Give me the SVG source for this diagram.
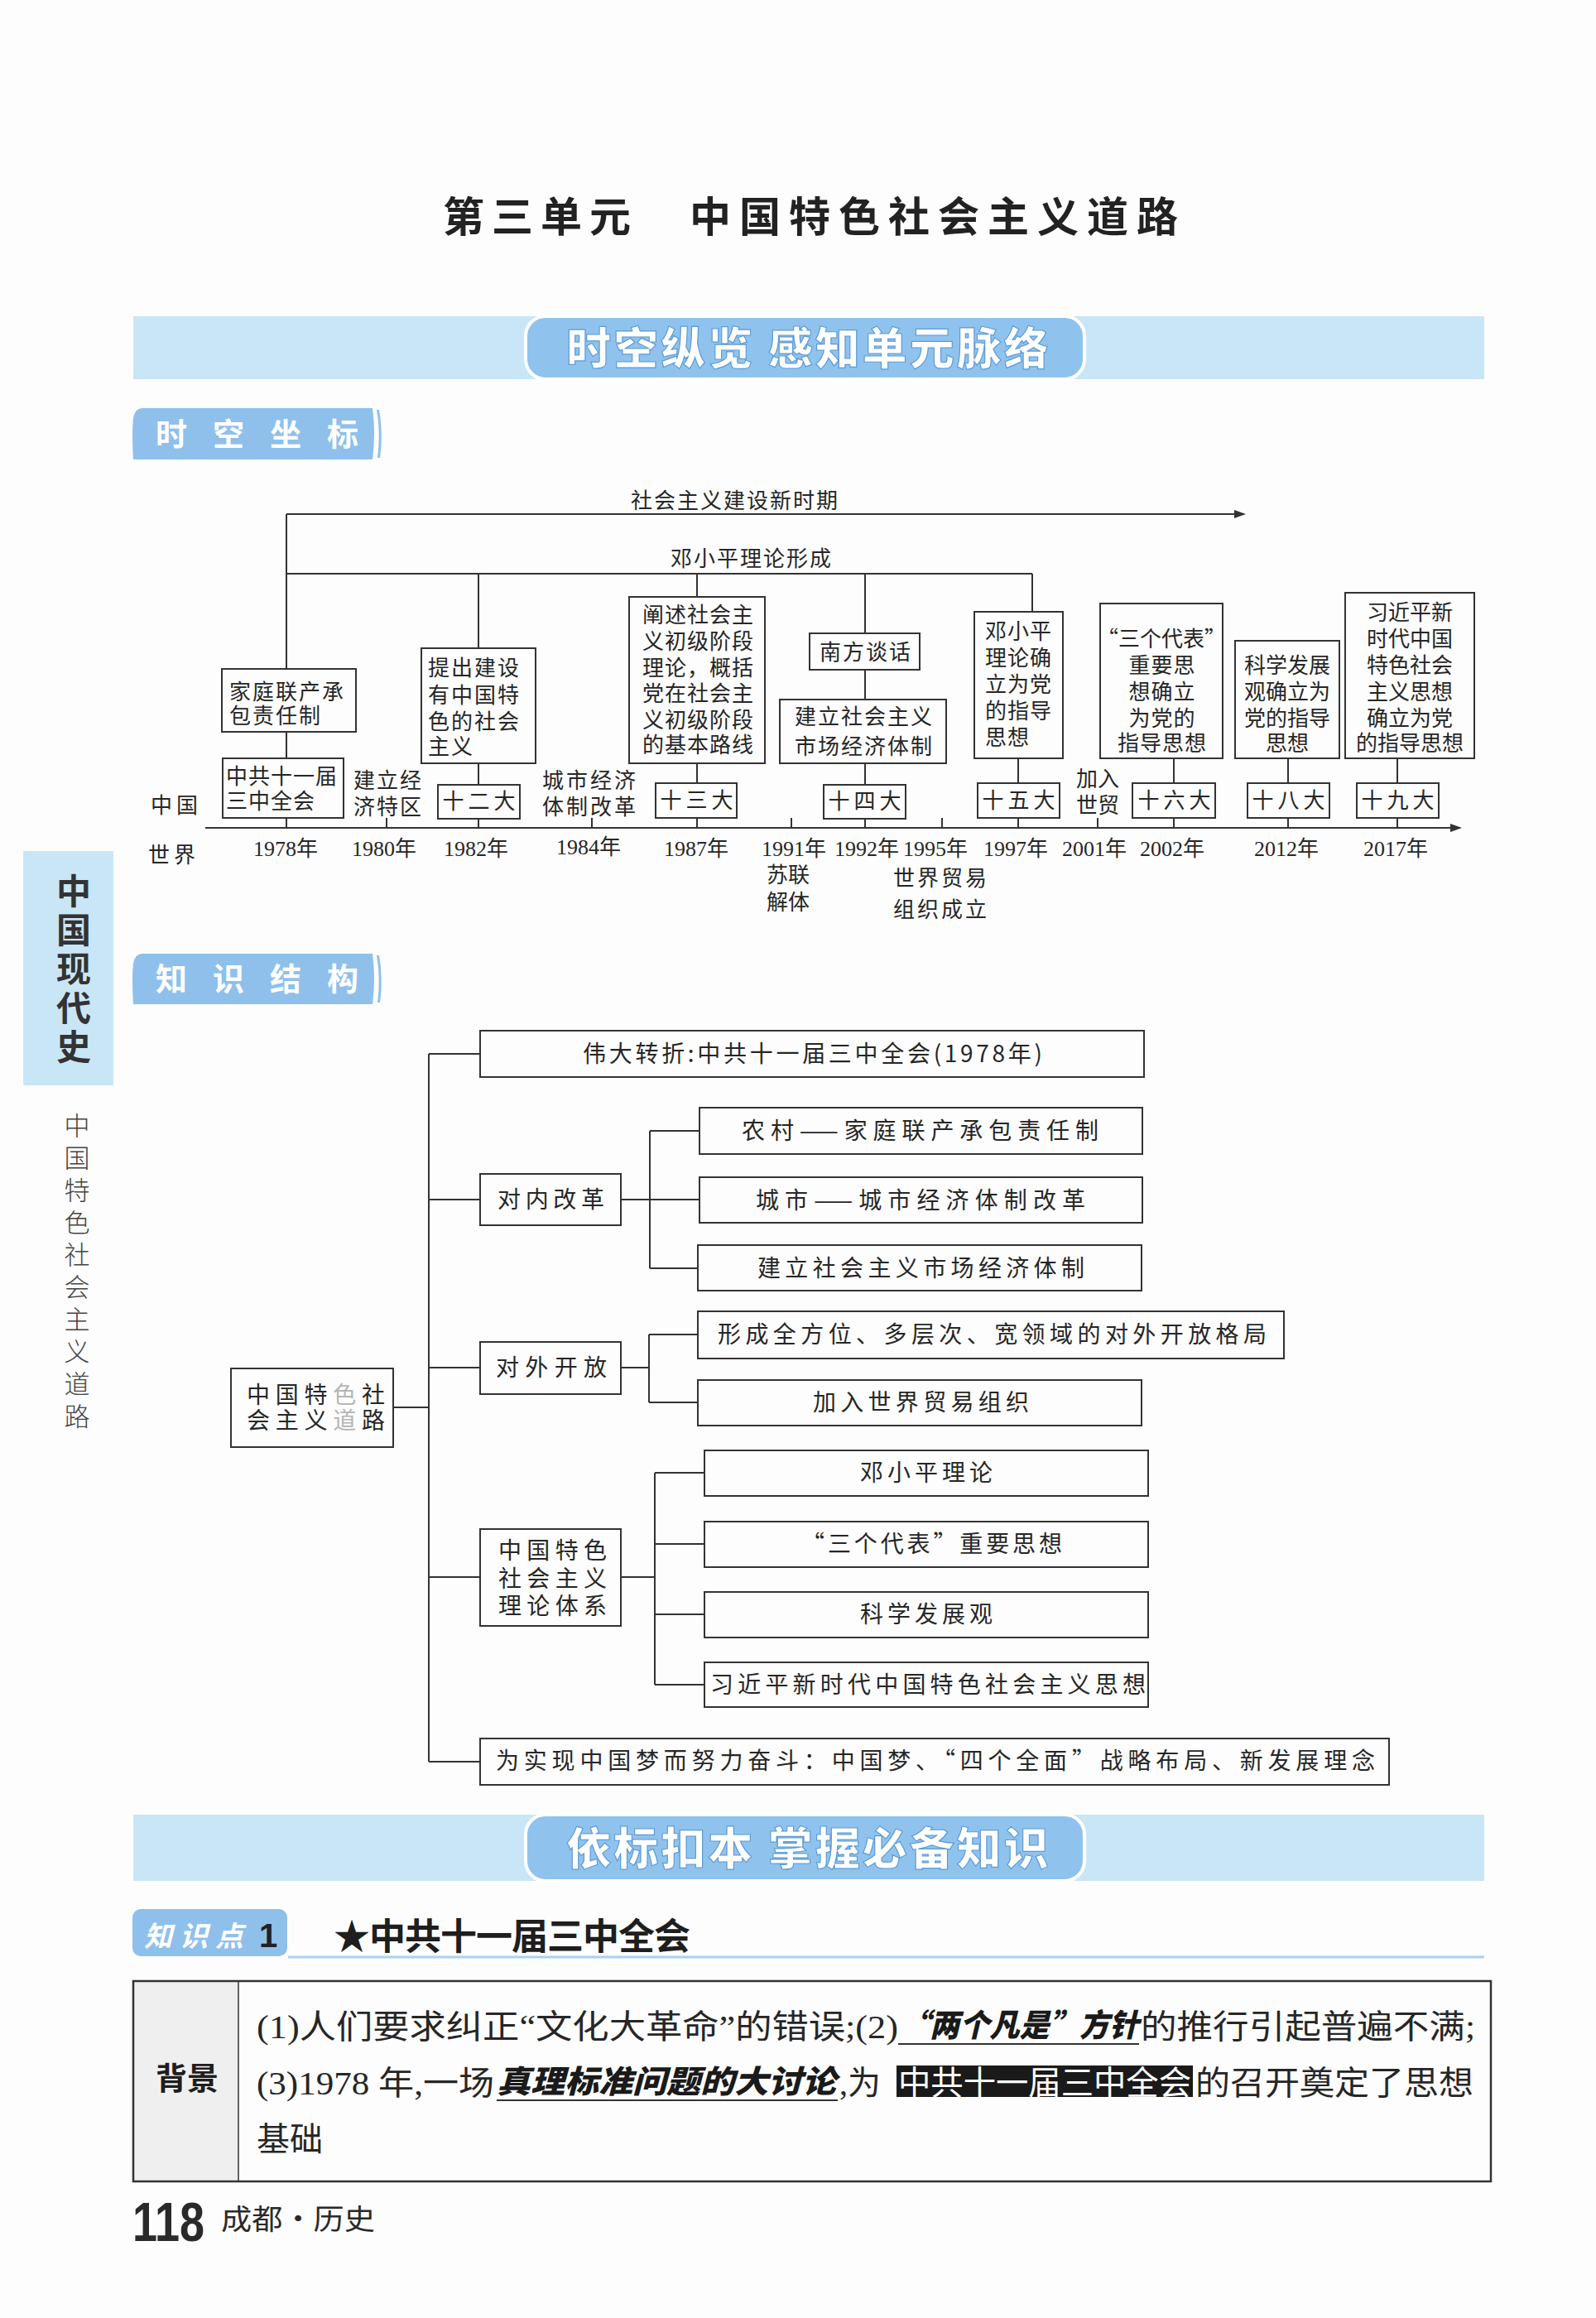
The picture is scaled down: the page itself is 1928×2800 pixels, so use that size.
<svg xmlns="http://www.w3.org/2000/svg" width="1928" height="2800" viewBox="0 0 1928 2800">
<defs>
<style>
.t{font-family:"Noto Sans CJK SC","Noto Sans CJK JP",sans-serif;fill:#262626;font-size:26px}
.y{font-family:"Liberation Serif","Noto Sans CJK SC",serif;fill:#262626;font-size:26px;text-anchor:middle}
.m{text-anchor:middle}
.b{fill:none;stroke:#333;stroke-width:2}
.ln{stroke:#333;stroke-width:2;fill:none}
.tr{font-family:"Noto Sans CJK SC",sans-serif;fill:#262626;font-size:28px}
.p{font-family:"Liberation Serif","Noto Sans CJK SC",serif;fill:#262626;font-size:40px}
.pb{font-family:"Noto Sans CJK SC",sans-serif;fill:#1a1a1a;font-size:38px;font-weight:900;font-style:italic}
.band{fill:#c9e6f7}
.pill{fill:#8fc3ee;stroke:#fff;stroke-width:4}
.bt{font-family:"Noto Sans CJK SC",sans-serif;fill:#fff;font-weight:900;font-size:54px;text-anchor:middle;letter-spacing:3px;stroke:#5d9bd6;stroke-width:1.2}
.tag{fill:#8fc0ec}
.tagt{font-family:"Noto Sans CJK SC",sans-serif;fill:#fff;font-weight:700;font-size:38px;letter-spacing:31px}
.faint{fill:#b5b5b5}
</style>
<marker id="ar" markerWidth="14" markerHeight="12" refX="12" refY="6" orient="auto" markerUnits="userSpaceOnUse"><path d="M0,1 L14,6 L0,11 z" fill="#333"/></marker>
<linearGradient id="ug" x1="0" x2="1"><stop offset="0" stop-color="#6fb0ec" stop-opacity="0.2"/><stop offset="0.5" stop-color="#3f8fe0"/><stop offset="1" stop-color="#6fb0ec" stop-opacity="0.2"/></linearGradient>
</defs>
<rect width="1928" height="2800" fill="#fdfdfd"/>

<g id="title" font-family="Noto Sans CJK SC, sans-serif" font-weight="700" font-size="50" fill="#222">
<text x="535" y="280" letter-spacing="9">第三单元</text>
<text x="833" y="280" letter-spacing="10">中国特色社会主义道路</text>
</g>

<g id="banner1">
<rect class="band" x="161" y="382" width="1632" height="76"/>
<rect class="pill" x="635" y="382" width="675" height="76" rx="24"/>
<text class="bt" x="977" y="441">时空纵览 感知单元脉络</text>
</g>

<g id="tag1">
<path class="tag" d="M172,493 H450 Q454,524 450,555 H161 Q159,524 161,505 Q163,493 172,493 z"/>
<path class="tag" d="M455,495 Q460,524 456,553 L459,553 Q463,524 458,495 z"/>
<text class="tagt" x="188" y="538">时空坐标</text>
</g>

<g id="timeline-connectors">
<line class="ln" x1="346" y1="621" x2="1503" y2="621" marker-end="url(#ar)"/>
<line class="ln" x1="346" y1="621" x2="346" y2="808"/>
<line class="ln" x1="346" y1="693" x2="1247" y2="693"/>
<line class="ln" x1="578" y1="693" x2="578" y2="783"/>
<line class="ln" x1="842" y1="693" x2="842" y2="721"/>
<line class="ln" x1="1045" y1="693" x2="1045" y2="765"/>
<line class="ln" x1="1247" y1="693" x2="1247" y2="739"/>
<line class="ln" x1="346" y1="884" x2="346" y2="916"/>
<line class="ln" x1="578" y1="922" x2="578" y2="948"/>
<line class="ln" x1="842" y1="922" x2="842" y2="946"/>
<line class="ln" x1="1045" y1="809" x2="1045" y2="845"/>
<line class="ln" x1="1045" y1="922" x2="1045" y2="948"/>
<line class="ln" x1="1230" y1="916" x2="1230" y2="946"/>
<line class="ln" x1="1418" y1="916" x2="1418" y2="946"/>
<line class="ln" x1="1556" y1="916" x2="1556" y2="946"/>
<line class="ln" x1="1688" y1="916" x2="1688" y2="946"/>
<line class="ln" x1="346" y1="988" x2="346" y2="1000"/>
<line class="ln" x1="578" y1="989" x2="578" y2="1000"/>
<line class="ln" x1="842" y1="988" x2="842" y2="1000"/>
<line class="ln" x1="1045" y1="989" x2="1045" y2="1000"/>
<line class="ln" x1="1230" y1="988" x2="1230" y2="1000"/>
<line class="ln" x1="1418" y1="988" x2="1418" y2="1000"/>
<line class="ln" x1="1556" y1="988" x2="1556" y2="1000"/>
<line class="ln" x1="1688" y1="988" x2="1688" y2="1000"/>
<line class="ln" x1="467" y1="988" x2="467" y2="1000"/>
<line class="ln" x1="715" y1="988" x2="715" y2="1000"/>
<line class="ln" x1="956" y1="988" x2="956" y2="1000"/>
<line class="ln" x1="1138" y1="988" x2="1138" y2="1000"/>
<line class="ln" x1="1326" y1="988" x2="1326" y2="1000"/>
<line class="ln" x1="248" y1="1000" x2="1764" y2="1000" marker-end="url(#ar)"/>
</g>

<g id="timeline-labels">
<text class="t m" x="888" y="614" letter-spacing="2">社会主义建设新时期</text>
<text class="t m" x="908" y="684" letter-spacing="2">邓小平理论形成</text>
<text class="t" x="182" y="982" letter-spacing="5">中国</text>
<text class="t" x="179" y="1042" letter-spacing="5">世界</text>
<text class="t" x="427" y="952" letter-spacing="2">建立经</text>
<text class="t" x="427" y="984" letter-spacing="2">济特区</text>
<text class="t" x="655" y="952" letter-spacing="3">城市经济</text>
<text class="t" x="655" y="984" letter-spacing="3">体制改革</text>
<text class="t" x="1300" y="950">加入</text>
<text class="t" x="1300" y="982">世贸</text>
<text class="y" x="345" y="1034">1978年</text>
<text class="y" x="464" y="1034">1980年</text>
<text class="y" x="575" y="1034">1982年</text>
<text class="y" x="711" y="1032">1984年</text>
<text class="y" x="841" y="1034">1987年</text>
<text class="y" x="959" y="1034">1991年</text>
<text class="y" x="1047" y="1034">1992年</text>
<text class="y" x="1130" y="1034">1995年</text>
<text class="y" x="1227" y="1034">1997年</text>
<text class="y" x="1322" y="1034">2001年</text>
<text class="y" x="1416" y="1034">2002年</text>
<text class="y" x="1554" y="1034">2012年</text>
<text class="y" x="1686" y="1034">2017年</text>
<text class="t m" x="952" y="1066">苏联</text>
<text class="t m" x="952" y="1099">解体</text>
<text class="t" x="1079" y="1070" letter-spacing="3">世界贸易</text>
<text class="t" x="1079" y="1108" letter-spacing="3">组织成立</text>
</g>

<g id="n-jiating"><rect class="b" x="268" y="808" width="162" height="76"/>
<text class="t" x="277" y="845" letter-spacing="2">家庭联产承</text><text class="t" x="277" y="874" letter-spacing="2">包责任制</text></g>
<g id="n-sanzhong"><rect class="b" x="269" y="916" width="146" height="72"/>
<text class="t" x="273" y="947" letter-spacing="1">中共十一届</text><text class="t" x="273" y="977" letter-spacing="1">三中全会</text></g>
<g id="n-tichu"><rect class="b" x="509" y="783" width="138" height="139"/>
<text class="t" x="517" y="816" letter-spacing="2">提出建设</text><text class="t" x="517" y="849" letter-spacing="2">有中国特</text><text class="t" x="517" y="881" letter-spacing="2">色的社会</text><text class="t" x="517" y="911" letter-spacing="2">主义</text></g>
<g id="n-12"><rect class="b" x="529" y="948" width="99" height="41"/><text class="t m" x="581" y="977" letter-spacing="5">十二大</text></g>
<g id="n-chanshu"><rect class="b" x="760" y="721" width="164" height="201"/>
<text class="t" x="776" y="752" letter-spacing="1">阐述社会主</text><text class="t" x="776" y="784" letter-spacing="1">义初级阶段</text><text class="t" x="776" y="816" letter-spacing="1">理论，概括</text><text class="t" x="776" y="847" letter-spacing="1">党在社会主</text><text class="t" x="776" y="879" letter-spacing="1">义初级阶段</text><text class="t" x="776" y="909" letter-spacing="1">的基本路线</text></g>
<g id="n-13"><rect class="b" x="792" y="946" width="98" height="42"/><text class="t m" x="844" y="976" letter-spacing="5">十三大</text></g>
<g id="n-nanfang"><rect class="b" x="978" y="765" width="133" height="44"/><text class="t m" x="1046" y="797" letter-spacing="2">南方谈话</text></g>
<g id="n-shichang"><rect class="b" x="942" y="845" width="201" height="77"/>
<text class="t m" x="1044" y="875" letter-spacing="2">建立社会主义</text><text class="t m" x="1044" y="911" letter-spacing="2">市场经济体制</text></g>
<g id="n-14"><rect class="b" x="995" y="948" width="99" height="41"/><text class="t m" x="1047" y="977" letter-spacing="5">十四大</text></g>
<g id="n-deng"><rect class="b" x="1177" y="739" width="107" height="177"/>
<text class="t" x="1190" y="772" letter-spacing="1">邓小平</text><text class="t" x="1190" y="804" letter-spacing="1">理论确</text><text class="t" x="1190" y="836" letter-spacing="1">立为党</text><text class="t" x="1190" y="868" letter-spacing="1">的指导</text><text class="t" x="1190" y="900" letter-spacing="1">思想</text></g>
<g id="n-15"><rect class="b" x="1181" y="946" width="99" height="42"/><text class="t m" x="1233" y="976" letter-spacing="5">十五大</text></g>
<g id="n-sange"><rect class="b" x="1329" y="729" width="148" height="187"/>
<text class="t m" x="1403" y="781">“三个代表”</text><text class="t m" x="1404" y="813" letter-spacing="1">重要思</text><text class="t m" x="1404" y="845" letter-spacing="1">想确立</text><text class="t m" x="1404" y="877" letter-spacing="1">为党的</text><text class="t m" x="1404" y="907" letter-spacing="1">指导思想</text></g>
<g id="n-16"><rect class="b" x="1368" y="946" width="100" height="42"/><text class="t m" x="1421" y="976" letter-spacing="5">十六大</text></g>
<g id="n-kexue"><rect class="b" x="1492" y="774" width="126" height="142"/>
<text class="t m" x="1555" y="813">科学发展</text><text class="t m" x="1555" y="845">观确立为</text><text class="t m" x="1555" y="877">党的指导</text><text class="t m" x="1555" y="907">思想</text></g>
<g id="n-18"><rect class="b" x="1507" y="946" width="99" height="42"/><text class="t m" x="1559" y="976" letter-spacing="5">十八大</text></g>
<g id="n-xi"><rect class="b" x="1625" y="716" width="156" height="200"/>
<text class="t m" x="1703" y="749">习近平新</text><text class="t m" x="1703" y="781">时代中国</text><text class="t m" x="1703" y="813">特色社会</text><text class="t m" x="1703" y="845">主义思想</text><text class="t m" x="1703" y="877">确立为党</text><text class="t m" x="1703" y="907">的指导思想</text></g>
<g id="n-19"><rect class="b" x="1639" y="946" width="99" height="42"/><text class="t m" x="1691" y="976" letter-spacing="5">十九大</text></g>

<g id="tag2">
<path class="tag" d="M172,1152 H450 Q454,1182 450,1213 H161 Q159,1182 161,1164 Q163,1152 172,1152 z"/>
<path class="tag" d="M455,1154 Q460,1182 456,1211 L459,1211 Q463,1182 458,1154 z"/>
<text class="tagt" x="188" y="1196">知识结构</text>
</g>

<g id="tree-connectors">
<line class="ln" x1="518" y1="1273" x2="518" y2="2128"/>
<line class="ln" x1="518" y1="1273" x2="580" y2="1273"/>
<line class="ln" x1="518" y1="1449" x2="580" y2="1449"/>
<line class="ln" x1="518" y1="1652" x2="580" y2="1652"/>
<line class="ln" x1="518" y1="1905" x2="580" y2="1905"/>
<line class="ln" x1="518" y1="2128" x2="580" y2="2128"/>
<line class="ln" x1="475" y1="1700" x2="518" y2="1700"/>
<line class="ln" x1="750" y1="1449" x2="785" y2="1449"/>
<line class="ln" x1="785" y1="1366" x2="785" y2="1532"/>
<line class="ln" x1="785" y1="1366" x2="845" y2="1366"/>
<line class="ln" x1="785" y1="1449" x2="845" y2="1449"/>
<line class="ln" x1="785" y1="1532" x2="843" y2="1532"/>
<line class="ln" x1="750" y1="1652" x2="784" y2="1652"/>
<line class="ln" x1="784" y1="1612" x2="784" y2="1694"/>
<line class="ln" x1="784" y1="1612" x2="843" y2="1612"/>
<line class="ln" x1="784" y1="1694" x2="843" y2="1694"/>
<line class="ln" x1="750" y1="1905" x2="791" y2="1905"/>
<line class="ln" x1="791" y1="1779" x2="791" y2="2035"/>
<line class="ln" x1="791" y1="1779" x2="851" y2="1779"/>
<line class="ln" x1="791" y1="1865" x2="851" y2="1865"/>
<line class="ln" x1="791" y1="1950" x2="851" y2="1950"/>
<line class="ln" x1="791" y1="2035" x2="851" y2="2035"/>
</g>

<g id="k-root"><rect class="b" x="279" y="1653" width="196" height="95"/>
<text class="tr" x="298" y="1695" textLength="167" lengthAdjust="spacing">中国特<tspan class="faint">色</tspan>社</text><text class="tr" x="298" y="1726" textLength="167" lengthAdjust="spacing">会主义<tspan class="faint">道</tspan>路</text></g>
<g id="k-zhuanzhe"><rect class="b" x="580" y="1245" width="802" height="56"/><text class="tr" x="704" y="1283" textLength="555" lengthAdjust="spacing">伟大转折:中共十一届三中全会(1978年)</text></g>
<g id="k-duinei"><rect class="b" x="580" y="1418" width="170" height="62"/><text class="tr" x="601" y="1459" textLength="129" lengthAdjust="spacing">对内改革</text></g>
<g id="k-nongcun"><rect class="b" x="845" y="1338" width="535" height="56"/><text class="tr" x="896" y="1376" textLength="431" lengthAdjust="spacing">农村——家庭联产承包责任制</text></g>
<g id="k-chengshi"><rect class="b" x="845" y="1422" width="535" height="55"/><text class="tr" x="913" y="1460" textLength="398" lengthAdjust="spacing">城市——城市经济体制改革</text></g>
<g id="k-shichang"><rect class="b" x="843" y="1504" width="536" height="55"/><text class="tr" x="915" y="1542" textLength="395" lengthAdjust="spacing">建立社会主义市场经济体制</text></g>
<g id="k-duiwai"><rect class="b" x="580" y="1621" width="170" height="63"/><text class="tr" x="599" y="1662" textLength="134" lengthAdjust="spacing">对外开放</text></g>
<g id="k-geju"><rect class="b" x="843" y="1584" width="708" height="57"/><text class="tr" x="867" y="1622" textLength="663" lengthAdjust="spacing">形成全方位、多层次、宽领域的对外开放格局</text></g>
<g id="k-wto"><rect class="b" x="843" y="1667" width="536" height="55"/><text class="tr" x="982" y="1704" textLength="261" lengthAdjust="spacing">加入世界贸易组织</text></g>
<g id="k-tixi"><rect class="b" x="580" y="1847" width="170" height="117"/>
<text class="tr" x="602" y="1883" textLength="131" lengthAdjust="spacing">中国特色</text><text class="tr" x="602" y="1917" textLength="131" lengthAdjust="spacing">社会主义</text><text class="tr" x="602" y="1950" textLength="131" lengthAdjust="spacing">理论体系</text></g>
<g id="k-deng"><rect class="b" x="851" y="1752" width="536" height="55"/><text class="tr" x="1039" y="1789" textLength="160" lengthAdjust="spacing">邓小平理论</text></g>
<g id="k-sange"><rect class="b" x="851" y="1838" width="536" height="55"/><text class="tr" x="968" y="1875" textLength="315" lengthAdjust="spacing">“三个代表”重要思想</text></g>
<g id="k-kexue"><rect class="b" x="851" y="1923" width="536" height="55"/><text class="tr" x="1039" y="1960" textLength="160" lengthAdjust="spacing">科学发展观</text></g>
<g id="k-xi"><rect class="b" x="851" y="2008" width="536" height="54"/><text class="tr" x="858" y="2045" textLength="526" lengthAdjust="spacing">习近平新时代中国特色社会主义思想</text></g>
<g id="k-meng"><rect class="b" x="580" y="2100" width="1098" height="56"/><text class="tr" x="599" y="2137" textLength="1062" lengthAdjust="spacing">为实现中国梦而努力奋斗：中国梦、“四个全面”战略布局、新发展理念</text></g>

<g id="banner2">
<rect class="band" x="161" y="2192" width="1632" height="80"/>
<rect class="pill" x="635" y="2192" width="675" height="80" rx="24"/>
<text class="bt" x="977" y="2253">依标扣本 掌握必备知识</text>
</g>

<g id="kp1">
<rect class="tag" x="160" y="2306" width="187" height="57" rx="10"/>
<text x="174" y="2351" font-family="Noto Sans CJK SC, sans-serif" font-size="34" font-style="italic" font-weight="700" fill="#fff" textLength="120" lengthAdjust="spacing">知识点</text>
<text x="313" y="2352" font-family="Liberation Sans, sans-serif" font-size="40" font-weight="700" fill="#222">1</text>
<text x="403" y="2355" font-family="Noto Sans CJK SC, sans-serif" font-size="44" font-weight="700" fill="#1e1e1e" letter-spacing="-1">★中共十一届三中全会</text>
<line x1="348" y1="2364" x2="1793" y2="2364" stroke="#a9d2f1" stroke-width="3"/>
</g>

<g id="table">
<rect x="161" y="2393" width="127" height="242" fill="#efefef"/>
<rect x="161" y="2393" width="1640" height="242" fill="none" stroke="#333" stroke-width="2.5"/>
<line x1="288" y1="2393" x2="288" y2="2635" stroke="#333" stroke-width="1.5"/>
<text x="226" y="2524" font-family="Noto Sans CJK SC, sans-serif" font-size="38" font-weight="700" fill="#1e1e1e" text-anchor="middle">背景</text>
<text class="p" x="310" y="2462" textLength="775" lengthAdjust="spacingAndGlyphs">(1)人们要求纠正“文化大革命”的错误;(2)</text>
<text class="pb" x="1087" y="2460" textLength="289" lengthAdjust="spacingAndGlyphs">“两个凡是”方针</text>
<line x1="1085" y1="2469" x2="1376" y2="2469" stroke="#333" stroke-width="2"/>
<text class="p" x="1378" y="2462" textLength="404" lengthAdjust="spacingAndGlyphs">的推行引起普遍不满;</text>
<text class="p" x="310" y="2530" textLength="287" lengthAdjust="spacingAndGlyphs">(3)1978 年,一场</text>
<text class="pb" x="600" y="2528" textLength="410" lengthAdjust="spacingAndGlyphs">真理标准问题的大讨论</text>
<line x1="600" y1="2537" x2="1012" y2="2537" stroke="#333" stroke-width="2"/>
<text class="p" x="1014" y="2530">,为</text>
<rect x="1083" y="2495" width="358" height="38" fill="#1a1a1a"/>
<text class="p" x="1085" y="2530" style="fill:#fff" textLength="354" lengthAdjust="spacingAndGlyphs">中共十一届三中全会</text>
<text class="p" x="1444" y="2530" textLength="336" lengthAdjust="spacingAndGlyphs">的召开奠定了思想</text>
<text class="p" x="310" y="2598">基础</text>
</g>

<g id="footer">
<text x="160" y="2707" font-family="Liberation Sans Narrow, Liberation Sans, sans-serif" font-size="66" font-weight="700" fill="#2a2a2a" textLength="87" lengthAdjust="spacingAndGlyphs">118</text>
<text x="267" y="2693" font-family="Noto Sans CJK SC, sans-serif" font-size="34" fill="#2a2a2a" textLength="186" lengthAdjust="spacingAndGlyphs">成都·历史</text>
<line x1="292" y1="2704" x2="421" y2="2704" stroke="url(#ug)" stroke-width="4"/>
</g>

<g id="sidetab">
<rect x="28" y="1028" width="109" height="283" fill="#c9e6f7"/>
<text x="89" y="1055" writing-mode="vertical-rl" font-family="Noto Sans CJK SC, sans-serif" font-size="42" font-weight="700" fill="#333" letter-spacing="5">中国现代史</text>
<text x="93" y="1344" writing-mode="vertical-rl" font-family="Noto Sans CJK SC, sans-serif" font-size="31" font-weight="300" fill="#444" letter-spacing="8">中国特色社会主义道路</text>
</g>
</svg>
